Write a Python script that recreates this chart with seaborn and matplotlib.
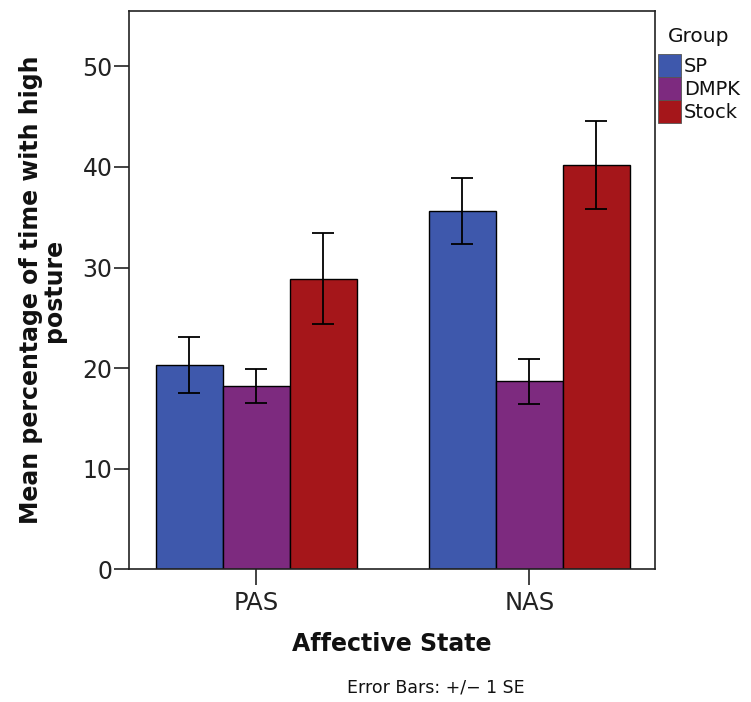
import numpy as np
import pandas as pd
import matplotlib
matplotlib.use("Agg")
import matplotlib.pyplot as plt
import seaborn as sns

# Mean % of time with high posture, with standard errors
states = ["PAS", "NAS"]
groups = ["SP", "DMPK", "Stock"]
mean_pas = [20.3, 18.2, 28.9]
mean_nas = [35.6, 18.7, 40.2]
se_pas = [2.75, 1.7, 4.5]
se_nas = [3.3, 2.25, 4.35]

colors = ["#3E58AC", "#7D2A7F", "#A5161A"]

rows = []
for state, means, ses in [("PAS", mean_pas, se_pas), ("NAS", mean_nas, se_nas)]:
    for g, m, s in zip(groups, means, ses):
        rows.append({"Affective State": state, "Group": g, "Mean": m, "SE": s})
df = pd.DataFrame(rows)

sns.set_style("white")
plt.rcParams["font.family"] = ["DejaVu Sans"]
plt.rcParams["text.color"] = "#111111"
plt.rcParams["axes.labelcolor"] = "#111111"

fig = plt.figure(figsize=(7.51, 7.02), dpi=100)
ax = fig.add_axes([0.1722, 0.189, 0.7, 0.7953])

sns.barplot(data=df, x="Affective State", y="Mean", hue="Group",
            order=states, hue_order=groups, palette=colors,
            width=0.736, errorbar=None, saturation=1,
            edgecolor="black", linewidth=1.0, ax=ax)

# error bars (+/- 1 SE) at the centre of each bar
for gi, g in enumerate(groups):
    container = ax.containers[gi]
    sub = df[df["Group"] == g].set_index("Affective State").loc[states]
    xs = [p.get_x() + p.get_width() / 2 for p in container.patches]
    ax.errorbar(xs, sub["Mean"].values, yerr=sub["SE"].values, fmt="none",
                ecolor="black", elinewidth=1.3, capsize=8, capthick=1.3, zorder=5)

ax.set_ylim(0, 55.5)
ax.set_xlim(-0.465, 1.46)
ax.set_yticks([0, 10, 20, 30, 40, 50])

for side in ["left", "right", "top", "bottom"]:
    ax.spines[side].set_visible(True)
    ax.spines[side].set_color("#222222")
    ax.spines[side].set_linewidth(1.2)

ax.tick_params(axis="y", which="both", left=True, length=11, width=1.2,
               direction="out", pad=1, labelsize=17, colors="#222222")
ax.tick_params(axis="x", which="both", bottom=True, length=11.5, width=1.2,
               direction="out", pad=4, labelsize=17.5, colors="#222222")

ax.set_xlabel("Affective State", fontsize=17, fontweight="bold", labelpad=12)
ax.set_ylabel("Mean percentage of time with high\nposture", fontsize=17,
              fontweight="bold", labelpad=12, linespacing=0.95)

leg = ax.legend(title="Group", loc="upper left", bbox_to_anchor=(0.976, 1.0),
                frameon=False, fontsize=14, title_fontsize=14.5,
                handlelength=1.2, handleheight=1.45, handletextpad=0.12,
                labelspacing=0.0, borderaxespad=0.2, borderpad=0.6)
# a little room between the legend title and its entries
leg._legend_box.sep = 6
for h in leg.legend_handles:
    h.set_edgecolor("#555555")
    h.set_linewidth(0.6)

fig.text(0.58, 0.008, "Error Bars: +/\u2212 1 SE", ha="center", va="bottom",
         fontsize=12.5)

fig.savefig("out.png", dpi=100)
